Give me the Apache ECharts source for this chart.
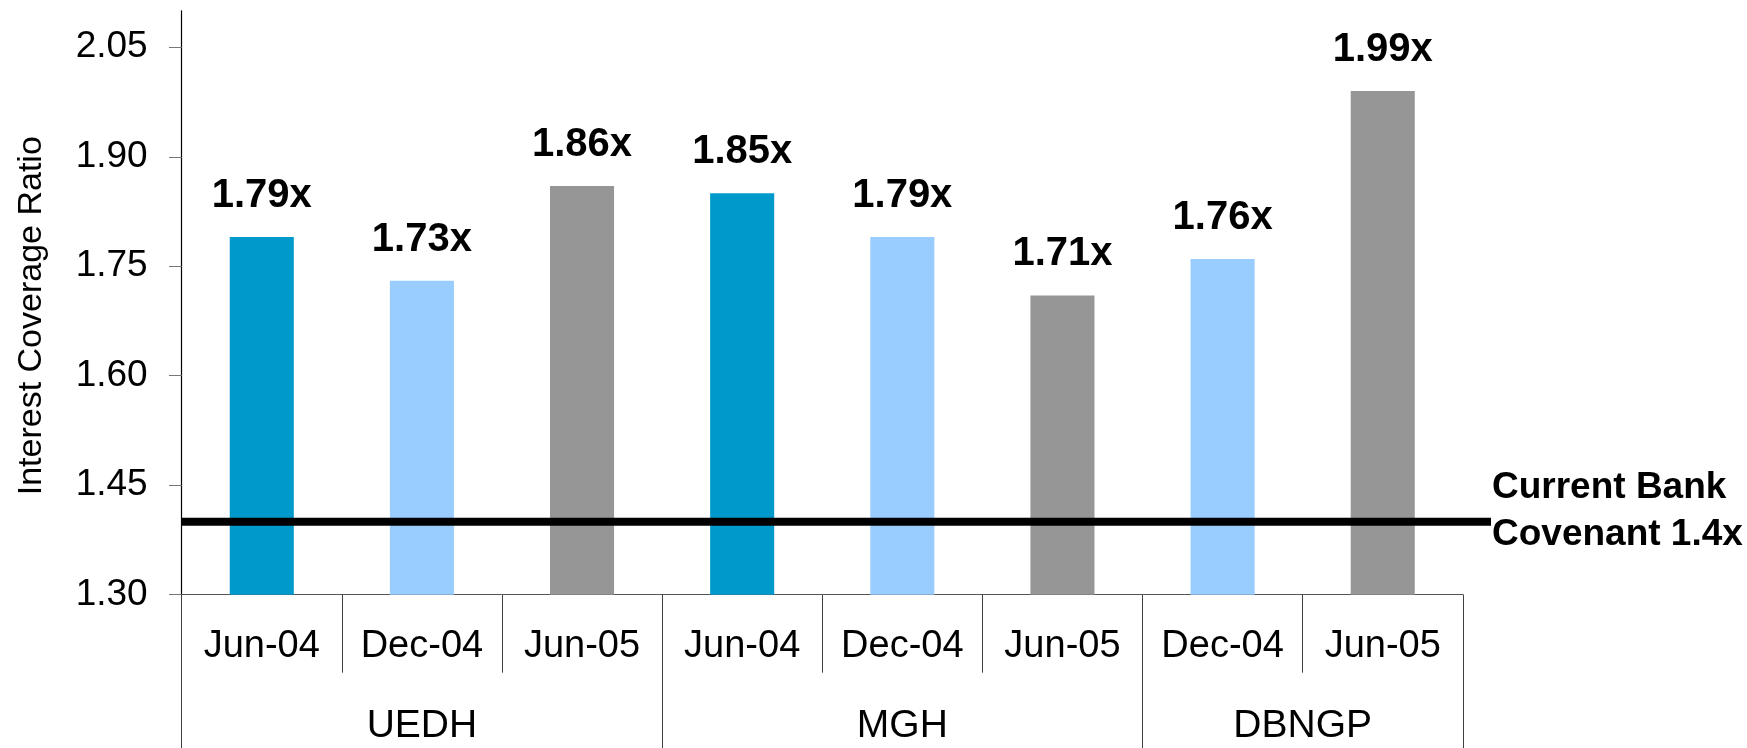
<!DOCTYPE html>
<html>
<head>
<meta charset="utf-8">
<script src="https://cdn.jsdelivr.net/npm/echarts@6/dist/echarts.min.js"></script>
<style>
html,body{margin:0;padding:0;background:#fff;}
#chart{width:1747px;height:748px;}
</style>
</head>
<body>
<div id="chart"></div>
<script>
// ---- data ----
const categories = ['Jun-04','Dec-04','Jun-05','Jun-04','Dec-04','Jun-05','Dec-04','Jun-05'];
const groupOf = ['UEDH','UEDH','UEDH','MGH','MGH','MGH','DBNGP','DBNGP'];
const values = [1.79, 1.73, 1.86, 1.85, 1.79, 1.71, 1.76, 1.99];
const yTicks = [1.30, 1.45, 1.60, 1.75, 1.90, 2.05];
const yMin = 1.30, yMax = 2.10;
const covenant = 1.4;
const covenantLabel = ['Current Bank', 'Covenant 1.4x'];
const yAxisTitle = 'Interest Coverage Ratio';

// ---- derived ----
const colorByDate = {'Jun-04': '#0099CC', 'Dec-04': '#99CCFF', 'Jun-05': '#969696'};
const groups = [], groupStart = [], groupEnd = [];
groupOf.forEach((g, i) => {
  if (groups[groups.length - 1] !== g) { groups.push(g); groupStart.push(i); groupEnd.push(i + 1); }
  else groupEnd[groupEnd.length - 1] = i + 1;
});
const groupCenters = groups.map((g, k) => (groupStart[k] + groupEnd[k]) / 2);
const groupBounds = [0].concat(groupEnd);

const FONT = "'Liberation Sans', Arial, sans-serif";
const L = 181.7, R = 1747 - 1462.8, T = 10.8, B = 748 - 594.7;

const chart = echarts.init(document.getElementById('chart'), null, {renderer: 'canvas'});
chart.setOption({
  animation: false,
  backgroundColor: '#ffffff',
  grid: [
    {left: L, right: R, top: T, bottom: B, containLabel: false, outerBoundsMode: 'none'},
    {left: L, right: 1747 - 1491, top: T, bottom: B, containLabel: false, outerBoundsMode: 'none'}
  ],
  xAxis: [
    {
      type: 'category', gridIndex: 0, position: 'bottom', data: categories,
      axisLine: {show: true, lineStyle: {color: '#555', width: 1}},
      axisTick: {show: true, interval: 0, length: 78, lineStyle: {color: '#404040', width: 1}},
      axisLabel: {interval: 0, margin: 33, color: '#000', fontFamily: FONT, fontSize: 38}
    },
    {
      type: 'value', gridIndex: 0, position: 'bottom', min: 0, max: categories.length,
      axisLine: {show: false}, splitLine: {show: false},
      axisTick: {show: true, customValues: groupBounds, length: 153.5, lineStyle: {color: '#404040', width: 1}},
      axisLabel: {
        customValues: groupCenters, margin: 112, color: '#000', fontFamily: FONT, fontSize: 39,
        formatter: v => { const k = groupCenters.findIndex(c => Math.abs(c - v) < 1e-6); return k >= 0 ? groups[k] : ''; }
      }
    },
    {type: 'value', gridIndex: 1, min: 0, max: 1, show: false}
  ],
  yAxis: [
    {
      type: 'value', gridIndex: 0, min: yMin, max: yMax, interval: 0.15,
      name: yAxisTitle, nameLocation: 'middle', nameGap: 133, nameRotate: 90,
      nameTextStyle: {fontFamily: FONT, fontSize: 34, color: '#000', padding: [0, 26, 0, 0]},
      axisLine: {show: true, lineStyle: {color: '#000', width: 1.2}},
      axisTick: {show: true, customValues: yTicks, length: 12.7, lineStyle: {color: '#777', width: 1}},
      axisLabel: {customValues: yTicks, margin: 34, color: '#000', fontFamily: FONT, fontSize: 37,
        formatter: v => v.toFixed(2)},
      splitLine: {show: false}
    },
    {type: 'value', gridIndex: 1, min: yMin, max: yMax, show: false}
  ],
  series: [
    {
      type: 'bar', xAxisIndex: 0, yAxisIndex: 0, barWidth: '40%',
      data: values.map((v, i) => ({value: v, itemStyle: {color: colorByDate[categories[i]]}})),
      label: {show: true, position: 'top', distance: 21, color: '#000', fontFamily: FONT,
        fontWeight: 'bold', fontSize: 40, formatter: p => p.value.toFixed(2) + 'x'}
    },
    {
      type: 'line', xAxisIndex: 2, yAxisIndex: 1, z: 5,
      data: [[0, covenant], [1, covenant]],
      symbol: 'none', lineStyle: {color: '#000', width: 8},
      endLabel: {show: true, formatter: covenantLabel.join('\n'), distance: 1, offset: [0, -10],
        align: 'left', color: '#000', fontFamily: FONT, fontWeight: 'bold', fontSize: 37, lineHeight: 47}
    }
  ]
});
</script>
</body>
</html>
